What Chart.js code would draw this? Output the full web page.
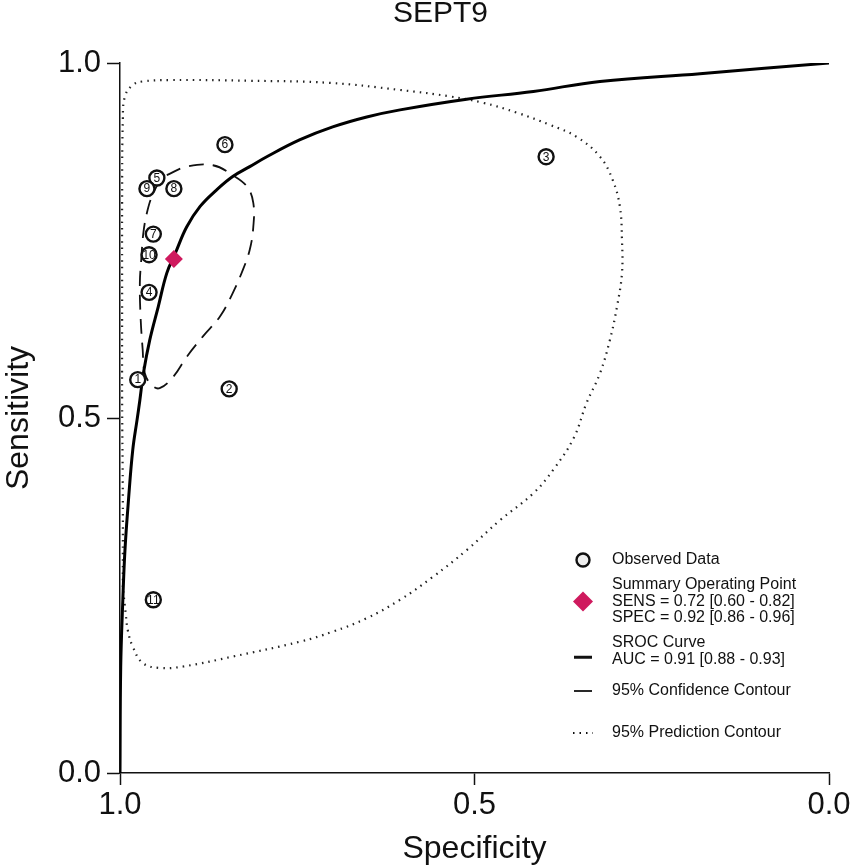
<!DOCTYPE html>
<html lang="en">
  <head>
    <meta charset="UTF-8">
    <script src="https://cdn.jsdelivr.net/npm/chart.js@4.4.1/dist/chart.umd.min.js"></script>
    <style>
      body { margin: 0; background: #FFFFFF; }
      .chart-box { width: 851px; height: 868px; }
    </style>
  </head>
  <body>
    <div class="chart-box">
      <canvas id="srocChart"></canvas>
    </div>
    <script>
      // observed studies
      const studyIds = ['1', '2', '3', '4', '5', '6', '7', '8', '9', '10', '11'];
      const studySpec = [0.975, 0.846, 0.399, 0.959, 0.948, 0.852, 0.953, 0.924, 0.962, 0.959, 0.953];
      const studySens = [0.554, 0.541, 0.868, 0.677, 0.838, 0.885, 0.759, 0.823, 0.823, 0.730, 0.244];

      // summary operating point
      const summarySpec = [0.924];
      const summarySens = [0.724];

      // SROC curve
      const srocSpec = [1.0, 0.999, 0.996, 0.993, 0.988, 0.982, 0.976, 0.972, 0.967, 0.958, 0.946, 0.934, 0.922,
        0.906, 0.887, 0.864, 0.841, 0.817, 0.793, 0.746, 0.700, 0.652, 0.605, 0.511, 0.417, 0.323, 0.182, 0.0];
      const srocSens = [0.0, 0.149, 0.244, 0.314, 0.385, 0.455, 0.497, 0.525, 0.563, 0.610, 0.657, 0.704, 0.732,
        0.769, 0.798, 0.821, 0.840, 0.854, 0.868, 0.892, 0.910, 0.924, 0.934, 0.949, 0.960, 0.974, 0.985, 1.0];

      // 95% confidence contour
      const confSpec = [0.934, 0.906, 0.869, 0.841, 0.821, 0.812, 0.812, 0.817, 0.827, 0.841, 0.859, 0.883, 0.906,
        0.925, 0.944, 0.955, 0.965, 0.968, 0.971, 0.972, 0.970, 0.967, 0.962, 0.955, 0.944, 0.934];
      const confSens = [0.842, 0.854, 0.856, 0.842, 0.826, 0.803, 0.769, 0.737, 0.708, 0.676, 0.643, 0.615, 0.586,
        0.558, 0.542, 0.546, 0.563, 0.596, 0.643, 0.690, 0.723, 0.761, 0.789, 0.812, 0.833, 0.842];

      // 95% prediction contour
      const predSpec = [0.996, 0.996, 0.997, 0.997, 0.997, 0.996, 0.993, 0.982, 0.968, 0.929, 0.817, 0.704, 0.605,
        0.535, 0.488, 0.440, 0.394, 0.356, 0.323, 0.305, 0.295, 0.292, 0.292, 0.299, 0.309, 0.323, 0.342, 0.360,
        0.389, 0.417, 0.464, 0.511, 0.559, 0.605, 0.652, 0.700, 0.746, 0.841, 0.911, 0.944, 0.968, 0.982, 0.989,
        0.992, 0.996];
      const predSens = [0.262, 0.385, 0.525, 0.666, 0.807, 0.920, 0.953, 0.969, 0.974, 0.976, 0.975, 0.972, 0.962,
        0.953, 0.944, 0.930, 0.913, 0.896, 0.868, 0.835, 0.798, 0.751, 0.704, 0.657, 0.610, 0.563, 0.521, 0.472,
        0.427, 0.394, 0.356, 0.314, 0.276, 0.244, 0.218, 0.199, 0.185, 0.164, 0.150, 0.148, 0.155, 0.178, 0.201,
        0.225, 0.262];

      const axisTicks = [0, 0.5, 1];
      const chartTitle = 'SEPT9';

      const legendRows = [
        { marker: 'circle', lines: ['Observed Data'] },
        { marker: 'diamond', lines: ['Summary Operating Point', 'SENS = 0.72 [0.60 - 0.82]', 'SPEC = 0.92 [0.86 - 0.96]'] },
        { marker: 'thick', lines: ['SROC Curve', 'AUC = 0.91 [0.88 - 0.93]'] },
        { marker: 'dash', lines: ['95% Confidence Contour'] },
        { marker: 'dot', lines: ['95% Prediction Contour'] }
      ];

      const pair = (xs, ys) => xs.map((x, i) => ({ x: x, y: ys[i] }));
      const FONT = "'Liberation Sans', Arial, Helvetica, sans-serif";
      const PINK = '#CF1A5E';

      // title, numbers inside the study circles, legend
      const annotate = {
        id: 'annotate',
        afterDatasetsDraw(chart) {
          const ctx = chart.ctx;
          const meta = chart.getDatasetMeta(3);
          ctx.save();
          ctx.fillStyle = '#111';
          ctx.font = '12px ' + FONT;
          ctx.textAlign = 'center';
          ctx.textBaseline = 'middle';
          meta.data.forEach((pt, i) => {
            ctx.fillText(studyIds[i], pt.x, pt.y + 0.5);
          });
          ctx.restore();
        },
        afterDraw(chart) {
          const ctx = chart.ctx;
          const area = chart.chartArea;

          ctx.save();
          ctx.fillStyle = '#111';
          ctx.font = '30px ' + FONT;
          ctx.textAlign = 'center';
          ctx.textBaseline = 'middle';
          ctx.fillText(chartTitle, (area.left + area.right) / 2 - 34, area.top - 49);
          ctx.restore();

          const mx = area.right - 246;
          const tx = area.right - 217;
          const rowY = [560, 585, 643, 691, 733].map(v => area.bottom - (773 - v));
          ctx.save();
          ctx.font = '16px ' + FONT;
          ctx.fillStyle = '#111';
          ctx.textBaseline = 'middle';
          ctx.textAlign = 'left';
          legendRows.forEach((row, r) => {
            const y0 = rowY[r];
            row.lines.forEach((t, k) => ctx.fillText(t, tx, y0 + k * 16.5));
            const my = y0 + (row.lines.length - 1) * 8.25;
            ctx.strokeStyle = '#111';
            ctx.beginPath();
            if (row.marker === 'circle') {
              ctx.lineWidth = 2.4;
              ctx.fillStyle = '#EEE';
              ctx.arc(mx, my, 6.5, 0, Math.PI * 2);
              ctx.fill();
              ctx.stroke();
              ctx.fillStyle = '#111';
            } else if (row.marker === 'diamond') {
              ctx.fillStyle = PINK;
              ctx.moveTo(mx, my - 10);
              ctx.lineTo(mx + 10, my);
              ctx.lineTo(mx, my + 10);
              ctx.lineTo(mx - 10, my);
              ctx.closePath();
              ctx.fill();
              ctx.fillStyle = '#111';
            } else if (row.marker === 'thick') {
              ctx.lineWidth = 3;
              ctx.moveTo(mx - 9, my + 6);
              ctx.lineTo(mx + 9, my + 6);
              ctx.stroke();
            } else if (row.marker === 'dash') {
              ctx.lineWidth = 1.8;
              ctx.moveTo(mx - 9, my);
              ctx.lineTo(mx + 9, my);
              ctx.stroke();
            } else {
              ctx.lineWidth = 2;
              ctx.setLineDash([1.5, 5]);
              ctx.moveTo(mx - 10, my);
              ctx.lineTo(mx + 10, my);
              ctx.stroke();
              ctx.setLineDash([]);
            }
          });
          ctx.restore();
        }
      };

      const ctx = document.getElementById('srocChart').getContext('2d');
      const srocChart = new Chart(ctx, {
        type: 'scatter',
        data: {
          datasets: [
            {
              label: '95% Prediction Contour',
              data: pair(predSpec, predSens),
              showLine: true,
              borderColor: '#222',
              borderWidth: 2.2,
              borderDash: [1.5, 5],
              pointRadius: 0,
              tension: 0.4,
              order: 5
            },
            {
              label: '95% Confidence Contour',
              data: pair(confSpec, confSens),
              showLine: true,
              borderColor: '#111',
              borderWidth: 1.8,
              borderDash: [15, 9],
              pointRadius: 0,
              tension: 0.4,
              order: 4
            },
            {
              label: 'SROC Curve',
              data: pair(srocSpec, srocSens),
              showLine: true,
              borderColor: '#000',
              borderWidth: 3,
              pointRadius: 0,
              tension: 0.4,
              order: 3
            },
            {
              label: 'Observed Data',
              data: pair(studySpec, studySens),
              pointStyle: 'circle',
              pointRadius: 7.5,
              pointBorderWidth: 2.4,
              borderColor: '#111',
              backgroundColor: '#FFFFFF',
              order: 2
            },
            {
              label: 'Summary Operating Point',
              data: pair(summarySpec, summarySens),
              pointStyle: 'rectRot',
              pointRadius: 9,
              borderWidth: 0,
              backgroundColor: PINK,
              order: 1
            }
          ]
        },
        options: {
          responsive: true,
          maintainAspectRatio: false,
          animation: false,
          layout: { padding: { right: 22, top: 63 } },
          plugins: {
            legend: { display: false },
            tooltip: { enabled: false },
            title: { display: false }
          },
          scales: {
            x: {
              type: 'linear',
              reverse: true,
              min: 0,
              max: 1,
              afterBuildTicks: s => { s.ticks = axisTicks.map(v => ({ value: v })); },
              afterFit: s => { s.height = 95; },
              ticks: {
                color: '#111',
                font: { family: FONT, size: 31 },
                padding: 2,
                maxRotation: 0,
                callback: v => v.toFixed(1)
              },
              grid: { display: true, drawOnChartArea: false, drawTicks: true, tickLength: 12, tickColor: '#111', tickWidth: 1.5 },
              border: { display: true, color: '#111', width: 1.5 },
              title: {
                display: true,
                text: 'Specificity',
                color: '#111',
                font: { family: FONT, size: 32 },
                padding: { top: 2, bottom: 0 }
              }
            },
            y: {
              type: 'linear',
              min: 0,
              max: 1,
              afterBuildTicks: s => { s.ticks = axisTicks.map(v => ({ value: v })); },
              afterFit: s => { s.width = 120; },
              ticks: {
                color: '#111',
                font: { family: FONT, size: 31 },
                padding: 6,
                callback: v => v.toFixed(1)
              },
              grid: { display: true, drawOnChartArea: false, drawTicks: true, tickLength: 13, tickColor: '#111', tickWidth: 1.5 },
              border: { display: true, color: '#111', width: 1.5 },
              title: {
                display: true,
                text: 'Sensitivity',
                color: '#111',
                font: { family: FONT, size: 32 },
                padding: { top: 0, bottom: 0 }
              }
            }
          }
        },
        plugins: [annotate]
      });
    </script>
  </body>
</html>
